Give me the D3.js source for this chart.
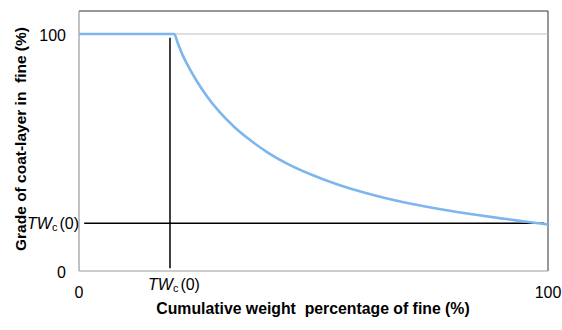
<!DOCTYPE html>
<html><head><meta charset="utf-8">
<script src="https://cdn.jsdelivr.net/npm/d3@7"></script>
<style>body{margin:0;background:#fff;} svg{display:block;font-family:"Liberation Sans",Arial,sans-serif;}</style>
</head><body><svg id="c" width="562" height="330"></svg>
<script>
// Data
const curveX = [0, 20.3, 21, 22, 23, 25, 27, 30, 33, 36, 40, 45, 50, 55, 60, 65, 70, 75, 80, 85, 90, 95, 100];
const curveY = [100, 100, 96.5, 91.5, 87.5, 80.5, 74.5, 67, 61, 56, 50.3, 44.7, 40.3, 36.6, 33.5, 30.9, 28.7, 26.8, 25.1, 23.6, 22.2, 20.9, 19.6];
const xTickValues = [0, 100];
const xTickLabels = ["0", "100"];
const yTickValues = [0, 100];
const yTickLabels = ["0", "100"];
const twcX = 19.4;         // vertical reference TWc(0) on x
const twcY = 20.1;         // horizontal reference TWc(0) on y
const vLineY = [1.2, 98.4];
const hLineX = [1.1, 99.2];
const gridY = [100];
const xTitle = "Cumulative weight  percentage of fine (%)";
const yTitle = "Grade of coat-layer in  fine (%)";

const W = 562, H = 330;
const m = {l: 79, r: 14, t: 10, b: 59};
const svg = d3.select("#c");
const x = d3.scaleLinear().domain([0, 100]).range([m.l, W - m.r]);
const y = d3.scaleLinear().domain([0, 100]).range([271, 34]);
const yTop = y.invert(m.t + 1);

// frame top/right (dark)
svg.append("line").attr("x1", x(0)).attr("x2", x(100)).attr("y1", y(yTop)).attr("y2", y(yTop)).attr("stroke", "#333").attr("stroke-width", 1);
svg.append("line").attr("x1", x(100)).attr("x2", x(100)).attr("y1", y(yTop)).attr("y2", y(0)).attr("stroke", "#333").attr("stroke-width", 1);

// gridline at 100
svg.selectAll(".grid").data(gridY).enter().append("line")
  .attr("x1", x(0)).attr("x2", x(100)).attr("y1", d => y(d)).attr("y2", d => y(d))
  .attr("stroke", "#bfbfbf").attr("stroke-width", 1.2);

// axes (gray)
svg.append("line").attr("x1", x(0)).attr("x2", x(0)).attr("y1", y(yTop)).attr("y2", y(0)).attr("stroke", "#999").attr("stroke-width", 1.2);
svg.append("line").attr("x1", x(0)).attr("x2", x(100)).attr("y1", y(0)).attr("y2", y(0)).attr("stroke", "#999").attr("stroke-width", 1.2);

// reference lines
svg.append("line").attr("x1", x(twcX)).attr("x2", x(twcX)).attr("y1", y(vLineY[0])).attr("y2", y(vLineY[1])).attr("stroke", "#000").attr("stroke-width", 1.5);
svg.append("line").attr("x1", x(hLineX[0])).attr("x2", x(hLineX[1])).attr("y1", y(twcY)).attr("y2", y(twcY)).attr("stroke", "#000").attr("stroke-width", 1.5);

// curve
const pts = curveX.map((v, i) => [v, curveY[i]]);
svg.append("path").datum(pts)
  .attr("d", d3.line().x(d => x(d[0])).y(d => y(d[1])).curve(d3.curveMonotoneX))
  .attr("fill", "none").attr("stroke", "#7db6ee").attr("stroke-width", 2.6);

// tick labels
const fs = 16;
svg.selectAll(".xt").data(xTickValues).enter().append("text")
  .attr("x", d => x(d)).attr("y", 298).attr("text-anchor", "middle")
  .attr("font-size", fs).attr("fill", "#000").text((d, i) => xTickLabels[i]);
svg.selectAll(".yt").data(yTickValues).enter().append("text")
  .attr("x", 66).attr("y", d => y(d) + 7).attr("text-anchor", "end")
  .attr("font-size", fs).attr("fill", "#000").text((d, i) => yTickLabels[i]);

function twc(sel) {
  sel.append("tspan").attr("font-style", "italic").text("TW");
  sel.append("tspan").attr("font-size", 11).attr("dy", 2).text("c");
  sel.append("tspan").attr("dy", -2).attr("dx", 2).text("(0)");
}
svg.append("text").attr("x", x(twcX) + 4).attr("y", 290).attr("text-anchor", "middle")
  .attr("font-size", fs).attr("fill", "#000").call(twc);
svg.append("text").attr("x", 79).attr("y", y(twcY) + 6).attr("text-anchor", "end")
  .attr("font-size", fs).attr("fill", "#000").call(twc);

// axis titles
svg.append("text").attr("x", 313).attr("y", 314).attr("text-anchor", "middle")
  .attr("font-size", 15.8).attr("font-weight", "bold").style("white-space", "pre").text(xTitle);
svg.append("text").attr("transform", "translate(26,139) rotate(-90)").attr("text-anchor", "middle")
  .attr("font-size", 15.5).attr("font-weight", "bold").style("white-space", "pre").text(yTitle);
</script></body></html>
